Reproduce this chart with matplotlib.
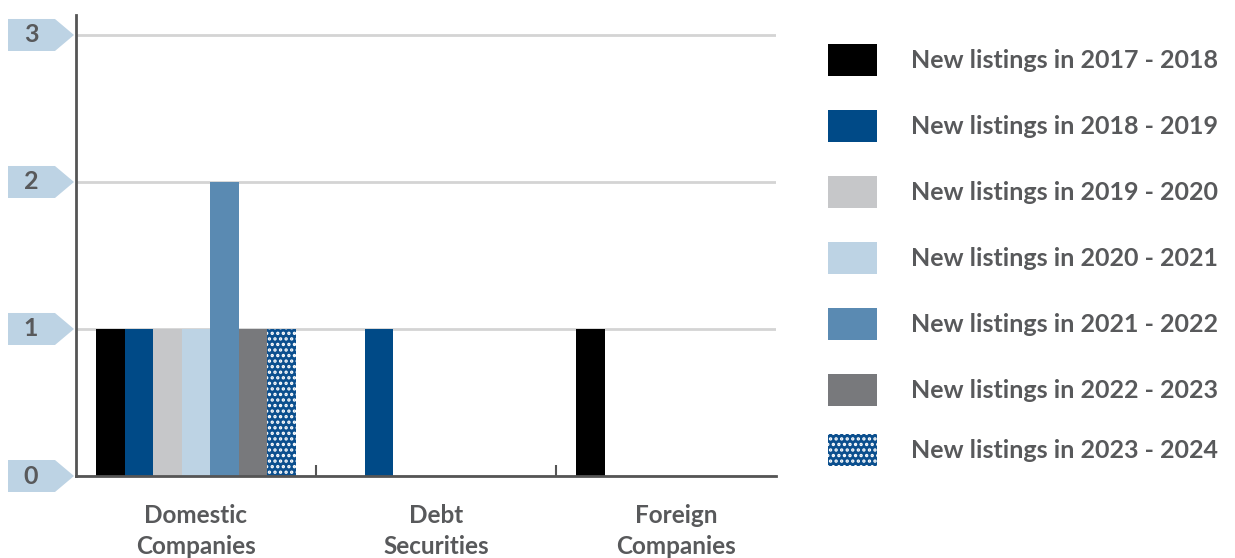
import numpy as np
import matplotlib
matplotlib.use("Agg")
import matplotlib.pyplot as plt
from matplotlib.patches import Polygon, Rectangle
from matplotlib.transforms import blended_transform_factory

plt.rcParams['font.family'] = ['Lato', 'DejaVu Sans']
plt.rcParams['hatch.linewidth'] = 1.6

categories = ["Domestic\nCompanies", "Debt\nSecurities", "Foreign\nCompanies"]
periods = ["2017 - 2018", "2018 - 2019", "2019 - 2020", "2020 - 2021",
           "2021 - 2022", "2022 - 2023", "2023 - 2024"]
listings_2017 = [1, 0, 1]
listings_2018 = [1, 1, 0]
listings_2019 = [1, 0, 0]
listings_2020 = [1, 0, 0]
listings_2021 = [2, 0, 0]
listings_2022 = [1, 0, 0]
listings_2023 = [1, 0, 0]
series = [listings_2017, listings_2018, listings_2019, listings_2020,
          listings_2021, listings_2022, listings_2023]
colors = ["#000000", "#004a87", "#c6c7c9", "#bdd3e4", "#5a8ab2", "#78797c", "#0b4f8e"]
hatches = [None, None, None, None, None, None, "..."]
yticks = [0, 1, 2, 3]

text_grey = "#58595b"
axis_grey = "#555555"

fig = plt.figure(figsize=(12.35, 5.58), dpi=100)
ax = fig.add_axes([76 / 1235, 1 - 476 / 558, 700 / 1235, 461 / 558])

x = np.arange(len(categories))
w = 0.119
for i, (vals, col, h) in enumerate(zip(series, colors, hatches)):
    if h:
        ax.bar(x + (i - 3) * w, vals, w, color=col, edgecolor="white",
               linewidth=0, hatch=h, zorder=3)
    else:
        ax.bar(x + (i - 3) * w, vals, w, color=col, linewidth=0, zorder=3)

ax.set_xlim(-0.5, 2.417)
ax.set_ylim(0, 3.136)

# horizontal gridlines
for yv in yticks:
    ax.axhline(yv, color="#d4d4d4", lw=2, zorder=1)

for side in ["top", "right"]:
    ax.spines[side].set_visible(False)
ax.spines["left"].set_color(axis_grey)
ax.spines["left"].set_linewidth(2)
ax.spines["bottom"].set_color(axis_grey)
ax.spines["bottom"].set_linewidth(2)
ax.spines["bottom"].set_zorder(4)

# divider ticks between categories, labels centred on categories
ax.set_xticks([0.5, 1.5])
ax.set_xticklabels([])
ax.tick_params(axis="x", which="major", direction="in", length=8, width=1.5, color=axis_grey)
ax.set_xticks(x, minor=True)
ax.set_xticklabels(categories, minor=True, fontsize=17.5, fontweight="bold",
                   color=text_grey, linespacing=1.45)
ax.tick_params(axis="x", which="minor", length=0, pad=20)
ax.set_yticks([])

# arrow-shaped y labels
trans = blended_transform_factory(fig.transFigure, ax.transData)
hh = 16 / 147
for yv in yticks:
    poly = Polygon([(8 / 1235, yv - hh), (55 / 1235, yv - hh), (74 / 1235, yv),
                    (55 / 1235, yv + hh), (8 / 1235, yv + hh)],
                   closed=True, transform=trans, facecolor="#bdd3e4",
                   edgecolor="none", clip_on=False)
    ax.add_patch(poly)
    ax.text(31 / 1235, yv, str(yv), transform=trans, ha="center", va="center",
            fontsize=18, fontweight="bold", color=text_grey, clip_on=False)

# legend
row_y = [60, 126, 192, 258, 324, 390, 450]
for ry, col, h, per in zip(row_y, colors, hatches, periods):
    r = Rectangle((828 / 1235, 1 - (ry + 16) / 558), 49 / 1235, 32 / 558,
                  transform=fig.transFigure, facecolor=col,
                  edgecolor="white" if h else "none", linewidth=0, hatch=h)
    fig.add_artist(r)
    fig.text(911 / 1235, 1 - ry / 558, "New listings in " + per, ha="left", va="center",
             fontsize=18, fontweight="bold", color=text_grey)

fig.savefig("out.png", dpi=100)
